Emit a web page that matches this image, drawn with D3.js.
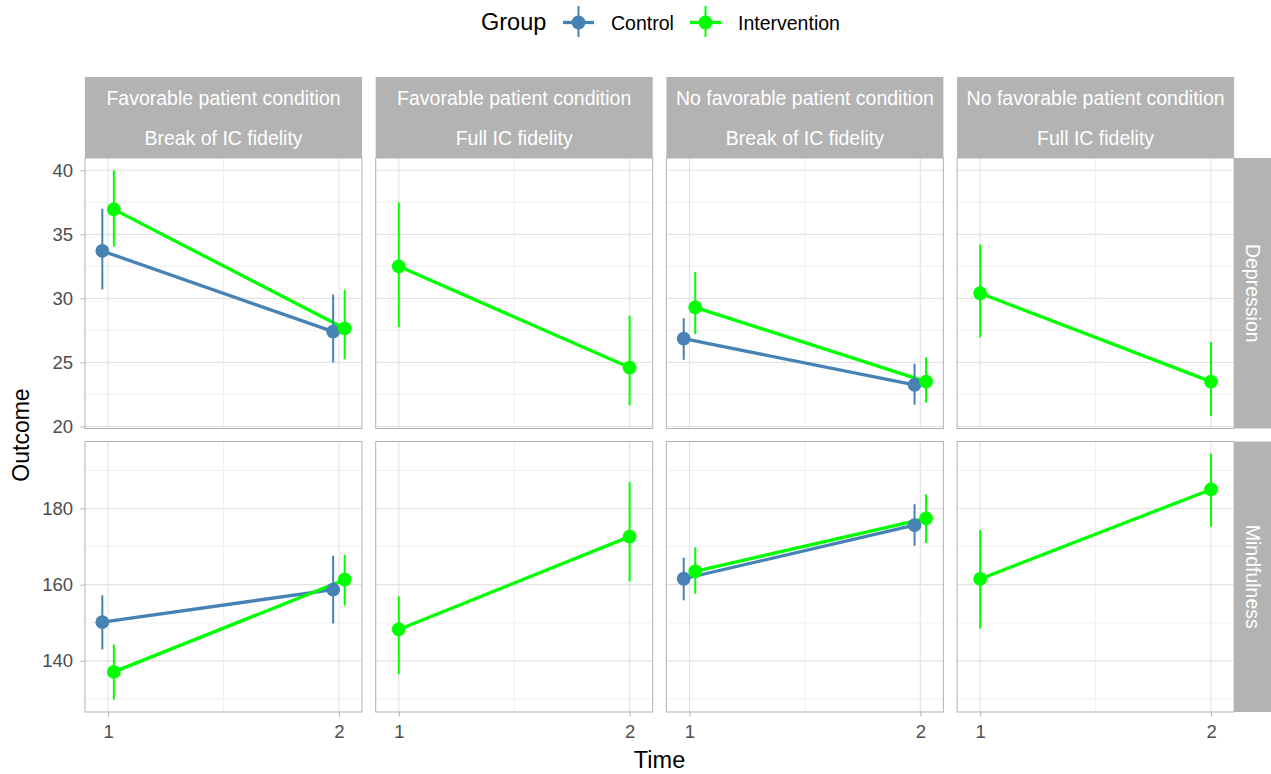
<!DOCTYPE html>
<html>
<head>
<meta charset="utf-8">
<script src="https://cdn.jsdelivr.net/npm/d3@7"></script>
<style>
  html, body { margin: 0; padding: 0; background: #ffffff; }
  svg { display: block; font-family: "Liberation Sans", Arial, sans-serif; }
</style>
</head>
<body>
<svg id="chart" width="1271" height="774"></svg>
<script>
// ---------------- DATA ----------------
const colTop = ["Favorable patient condition", "Favorable patient condition", "No favorable patient condition", "No favorable patient condition"];
const colBottom = ["Break of IC fidelity", "Full IC fidelity", "Break of IC fidelity", "Full IC fidelity"];
const rowLabels = ["Depression", "Mindfulness"];
const groups = ["Control", "Intervention"];
const groupColors = ["#4682B4", "#00FF00"];
const times = [1, 2];
const xTicks = [1, 2];
const xDomain = [0.9, 2.1];
const yTicksDep = [20, 25, 30, 35, 40];
const yTicksMind = [140, 160, 180];

// per column: [time1, time2]; null = group absent in that panel
const depCtrlMean = [[33.7, 27.4], null, [26.85, 23.25], null];
const depCtrlLow  = [[30.7, 25.0], null, [25.2, 21.7], null];
const depCtrlHigh = [[37.0, 30.3], null, [28.45, 24.9], null];
const depIntMean  = [[36.95, 27.65], [32.5, 24.6], [29.3, 23.5], [30.4, 23.5]];
const depIntLow   = [[34.05, 25.25], [27.75, 21.65], [27.2, 21.85], [26.95, 20.8]];
const depIntHigh  = [[40.0, 30.65], [37.5, 28.65], [32.05, 25.4], [34.2, 26.6]];

const mindCtrlMean = [[150.15, 158.7], null, [161.55, 175.6], null];
const mindCtrlLow  = [[143.0, 149.8], null, [155.9, 170.2], null];
const mindCtrlHigh = [[157.2, 167.6], null, [167.1, 181.1], null];
const mindIntMean  = [[137.1, 161.3], [148.25, 172.6], [163.5, 177.4], [161.5, 185.0]];
const mindIntLow   = [[129.8, 154.5], [136.5, 160.85], [157.6, 170.9], [148.5, 175.2]];
const mindIntHigh  = [[144.3, 167.8], [156.95, 186.9], [169.8, 183.7], [174.3, 194.35]];

// ---------------- BUILD RECORDS ----------------
const tables = [
  [[depCtrlMean, depCtrlLow, depCtrlHigh], [depIntMean, depIntLow, depIntHigh]],
  [[mindCtrlMean, mindCtrlLow, mindCtrlHigh], [mindIntMean, mindIntLow, mindIntHigh]]
];
const yTicksByRow = [yTicksDep, yTicksMind];
const dodge = 0.025;

// ---------------- LAYOUT ----------------
const panelX0 = 85, panelW = 277, gapX = 13.7;
const panelY = [158, 441.5], panelH = 270.5;
const stripTopY = 77, stripTopH = 81;
const stripRightW = 37;
const colX = d3.range(4).map(i => panelX0 + i * (panelW + gapX));
const gridMajor = "#E2E2E2", gridMinor = "#F0F0F0", borderCol = "#B3B3B3";
const textGrey = "#4D4D4D";

const svg = d3.select("#chart");

// y scales (ggplot-like 5% expansion)
const yScales = tables.map((tb, r) => {
  const vals = [];
  tb.forEach(g => { [g[1], g[2]].forEach(arr => arr.forEach(p => { if (p) vals.push(...p); })); });
  const lo = d3.min(vals), hi = d3.max(vals), ex = (hi - lo) * 0.05;
  return d3.scaleLinear().domain([lo - ex, hi + ex]).range([panelY[r] + panelH, panelY[r]]);
});

for (let r = 0; r < 2; r++) {
  const y = yScales[r];
  const ticks = yTicksByRow[r];
  const dom = y.domain();
  const step = ticks[1] - ticks[0];
  const minor = d3.range(ticks[0] - step / 2, dom[1], step).filter(v => v > dom[0] && v < dom[1] && !ticks.includes(v));
  for (let c = 0; c < 4; c++) {
    const x = d3.scaleLinear().domain(xDomain).range([colX[c], colX[c] + panelW]);
    const g = svg.append("g");
    g.append("rect").attr("x", colX[c]).attr("y", panelY[r]).attr("width", panelW).attr("height", panelH).attr("fill", "#fff");
    g.selectAll(".ym").data(minor).join("line")
      .attr("x1", colX[c]).attr("x2", colX[c] + panelW)
      .attr("y1", d => y(d)).attr("y2", d => y(d))
      .attr("stroke", gridMinor).attr("stroke-width", 1);
    g.selectAll(".xm").data([1.5]).join("line")
      .attr("x1", d => x(d)).attr("x2", d => x(d))
      .attr("y1", panelY[r]).attr("y2", panelY[r] + panelH)
      .attr("stroke", gridMinor).attr("stroke-width", 1);
    g.selectAll(".yM").data(ticks.filter(v => v >= dom[0] && v <= dom[1])).join("line")
      .attr("x1", colX[c]).attr("x2", colX[c] + panelW)
      .attr("y1", d => y(d)).attr("y2", d => y(d))
      .attr("stroke", gridMajor).attr("stroke-width", 1.1);
    g.selectAll(".xM").data(xTicks).join("line")
      .attr("x1", d => x(d)).attr("x2", d => x(d))
      .attr("y1", panelY[r]).attr("y2", panelY[r] + panelH)
      .attr("stroke", gridMajor).attr("stroke-width", 1.1);

    const present = groups.map((_, gi) => tables[r][gi][0][c] !== null);
    const both = present.every(v => v);
    const recs = [];
    groups.forEach((gname, gi) => {
      if (!present[gi]) return;
      const pts = times.map((t, ti) => ({
        x: t + (both ? (gi === 0 ? -dodge : dodge) : 0),
        mean: tables[r][gi][0][c][ti],
        lo: tables[r][gi][1][c][ti],
        hi: tables[r][gi][2][c][ti],
        gi
      }));
      recs.push({ gi, pts });
    });

    const line = d3.line().x(d => x(d.x)).y(d => y(d.mean));
    recs.forEach(s => {
      g.append("path").attr("d", line(s.pts)).attr("fill", "none")
        .attr("stroke", groupColors[s.gi]).attr("stroke-width", 3.3);
    });
    recs.forEach(s => {
      g.selectAll(null).data(s.pts).join("line")
        .attr("x1", d => x(d.x)).attr("x2", d => x(d.x))
        .attr("y1", d => y(d.lo)).attr("y2", d => y(d.hi))
        .attr("stroke", groupColors[s.gi]).attr("stroke-width", 2);
    });
    recs.forEach(s => {
      g.selectAll(null).data(s.pts).join("circle")
        .attr("cx", d => x(d.x)).attr("cy", d => y(d.mean)).attr("r", 6.9)
        .attr("fill", groupColors[s.gi]);
    });
    g.append("rect").attr("x", colX[c]).attr("y", panelY[r]).attr("width", panelW).attr("height", panelH)
      .attr("fill", "none").attr("stroke", borderCol).attr("stroke-width", 1);

    if (c === 0) {
      const ax = svg.append("g").attr("transform", `translate(${colX[0]},0)`)
        .call(d3.axisLeft(y).tickValues(ticks).tickSize(4.5).tickPadding(7.5));
      ax.select(".domain").remove();
      ax.selectAll(".tick line").attr("stroke", borderCol).attr("stroke-width", 1);
      ax.selectAll(".tick text").attr("fill", textGrey).attr("font-size", "18.5px")
        .attr("font-family", "'Liberation Sans', Arial, sans-serif");
    }
    if (r === 1) {
      const ax = svg.append("g").attr("transform", `translate(0,${panelY[1] + panelH})`)
        .call(d3.axisBottom(x).tickValues(xTicks).tickFormat(d3.format("d")).tickSize(4.5).tickPadding(8.5));
      ax.select(".domain").remove();
      ax.selectAll(".tick line").attr("stroke", borderCol).attr("stroke-width", 1);
      ax.selectAll(".tick text").attr("fill", textGrey).attr("font-size", "18.5px")
        .attr("font-family", "'Liberation Sans', Arial, sans-serif");
    }
  }
}

// top strips
for (let c = 0; c < 4; c++) {
  const g = svg.append("g");
  g.append("rect").attr("x", colX[c]).attr("y", stripTopY).attr("width", panelW).attr("height", stripTopH)
    .attr("fill", "#B3B3B3");
  const cx = colX[c] + panelW / 2;
  g.append("text").attr("x", cx).attr("y", 105).attr("text-anchor", "middle")
    .attr("fill", "#ffffff").attr("font-size", "19.5px").text(colTop[c]);
  g.append("text").attr("x", cx).attr("y", 145).attr("text-anchor", "middle")
    .attr("fill", "#ffffff").attr("font-size", "19.5px").text(colBottom[c]);
}
// right strips
const stripRX = colX[3] + panelW;
for (let r = 0; r < 2; r++) {
  const g = svg.append("g");
  g.append("rect").attr("x", stripRX).attr("y", panelY[r]).attr("width", stripRightW).attr("height", panelH)
    .attr("fill", "#B3B3B3");
  const cy = panelY[r] + panelH / 2;
  const cx = stripRX + stripRightW / 2;
  g.append("text").attr("transform", `translate(${cx},${cy}) rotate(90)`)
    .attr("text-anchor", "middle").attr("dy", "0.35em")
    .attr("fill", "#ffffff").attr("font-size", "19.5px").text(rowLabels[r]);
}

// axis titles
svg.append("text").attr("x", (colX[0] + colX[3] + panelW) / 2).attr("y", 768)
  .attr("text-anchor", "middle").attr("font-size", "23.5px").attr("fill", "#000").text("Time");
svg.append("text").attr("transform", `translate(29,${(panelY[0] + panelY[1] + panelH) / 2}) rotate(-90)`)
  .attr("text-anchor", "middle").attr("font-size", "23px").attr("fill", "#000").text("Outcome");

// legend
const lg = svg.append("g");
lg.append("text").attr("x", 481).attr("y", 30).attr("font-size", "23.5px").attr("fill", "#000").text("Group");
const keyX = [578.5, 705.5], labelX = [611, 738];
groups.forEach((gname, i) => {
  const k = lg.append("g");
  k.append("line").attr("x1", keyX[i] - 15.5).attr("x2", keyX[i] + 15.5).attr("y1", 22.5).attr("y2", 22.5)
    .attr("stroke", groupColors[i]).attr("stroke-width", 3.3);
  k.append("line").attr("x1", keyX[i]).attr("x2", keyX[i]).attr("y1", 6).attr("y2", 37)
    .attr("stroke", groupColors[i]).attr("stroke-width", 2);
  k.append("circle").attr("cx", keyX[i]).attr("cy", 22.5).attr("r", 6.9).attr("fill", groupColors[i]);
  lg.append("text").attr("x", labelX[i]).attr("y", 29.5).attr("font-size", "19.5px").attr("fill", "#000").text(gname);
});
</script>
</body>
</html>
